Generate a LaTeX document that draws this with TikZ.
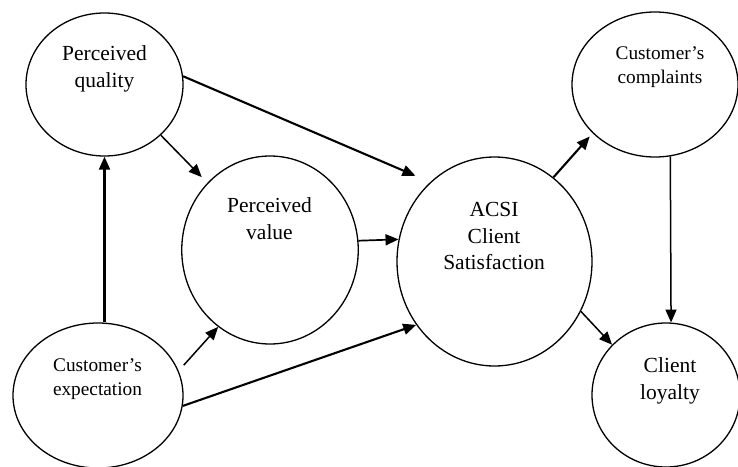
\documentclass[tikz,border=0pt]{standalone}
\usepackage{fontspec}
\setmainfont{Liberation Serif}
\usetikzlibrary{shapes.geometric,arrows.meta}
\tikzset{
  ell/.style={draw, ellipse, line width=1.3pt, inner sep=0pt},
  bigtxt/.style={anchor=base, align=center, inner sep=0pt, font=\fontsize{21.5}{26.5}\selectfont},
  smalltxt/.style={anchor=base, align=center, inner sep=0pt, font=\fontsize{19.3}{23.5}\selectfont},
  tip/.style={-{Triangle[length=13pt,width=11pt]}},
  thickarr/.style={line width=2.1pt, tip},
  thinarr/.style={line width=1.5pt, tip}
}
\begin{document}
\begin{tikzpicture}[x=1pt,y=-1pt]
\useasboundingbox (0,0) rectangle (738,466);
% ellipses
\node[ell, minimum width=157pt, minimum height=143pt] (pq) at (104.5,84.5) {};
\node[ell, minimum width=176.5pt, minimum height=188pt] (pv) at (270,250) {};
\node[ell, minimum width=170pt, minimum height=145pt] (ce) at (98,395.5) {};
\node[ell, minimum width=195pt, minimum height=209pt] (acsi) at (494.5,261.5) {};
\node[ell, minimum width=166pt, minimum height=145pt] (cc) at (655,84.5) {};
\node[ell, minimum width=148pt, minimum height=144pt] (cl) at (666,395) {};
% texts (anchor base = baseline of last line)
\node[bigtxt] (pqt) at (104.5,87) {Perceived\\quality};
\node[bigtxt] (pvt) at (269.5,239) {Perceived\\value};
\node[smalltxt] (cet) at (97.5,395) {Customer’s\\expectation};
\node[bigtxt] (act) at (494,269.5) {ACSI\\Client\\Satisfaction};
\node[smalltxt] (cct) at (660,83) {Customer’s\\complaints};
\node[bigtxt] (clt) at (670,399) {Client\\loyalty};
% connectors
\draw[thinarr, shorten >=8pt] (pq.-42.4) -- (pv.133.4);
\draw[thickarr, shorten >=16pt] (pq.6.9) -- (acsi.129.7);
\draw[thickarr] (pq.south |- ce.north) -- (pq.south);
\draw[thinarr, shorten <=7.6pt] (ce.17.4) -- (pv.236.8);
\draw[thickarr] (ce.-7) -- (acsi.-141.9);
\draw[line width=1.7pt, tip] (pv.6.5) -- (acsi.167.3);
\draw[thickarr, shorten >=4.4pt] (acsi.55.2) -- (cc.218.9);
\draw[thinarr] (acsi.-30.6) -- (cl.137.2);
\draw[thinarr] (cc.-78.1) -- (cl.86.8);
\end{tikzpicture}
\end{document}
